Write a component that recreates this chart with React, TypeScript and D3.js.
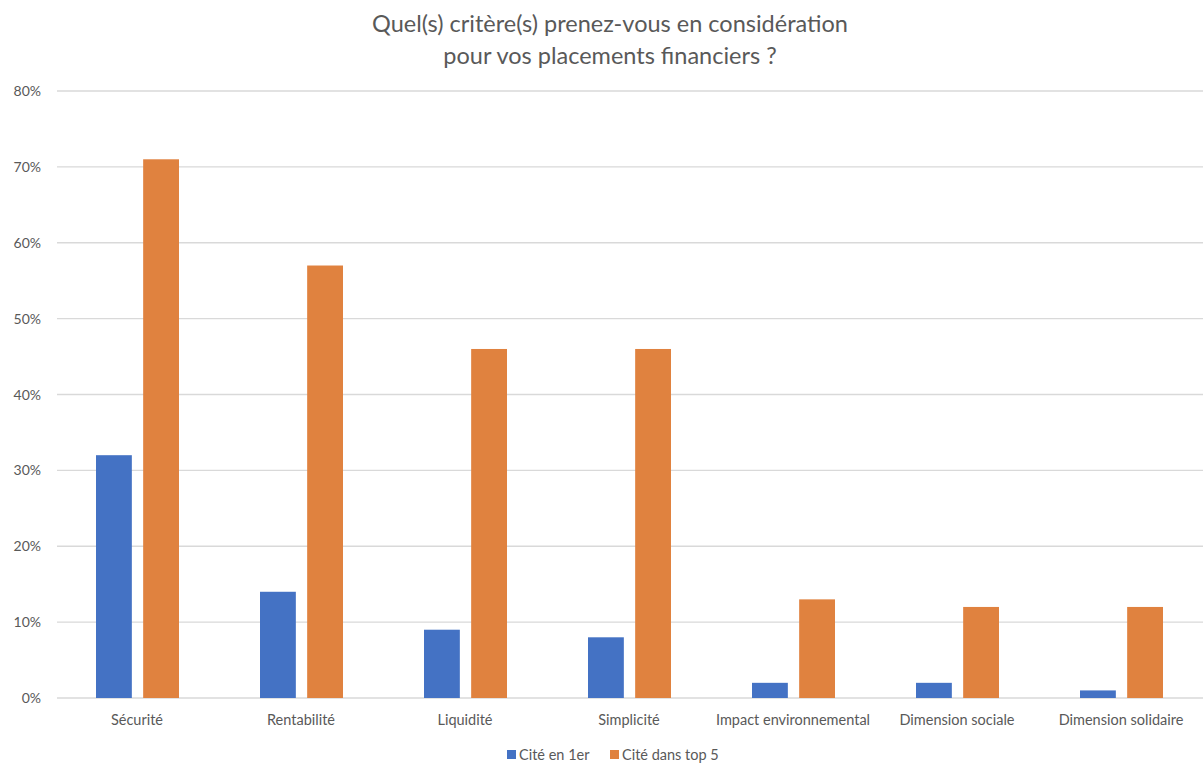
import React from "react";
import * as d3 from "d3";

const categories = [
  "Sécurité",
  "Rentabilité",
  "Liquidité",
  "Simplicité",
  "Impact environnemental",
  "Dimension sociale",
  "Dimension solidaire",
];
const firstCited = [0.32, 0.14, 0.09, 0.08, 0.02, 0.02, 0.01];
const top5Cited = [0.71, 0.57, 0.46, 0.46, 0.13, 0.12, 0.12];
const seriesNames = ["Cité en 1er", "Cité dans top 5"];
const yTicks = [0, 0.1, 0.2, 0.3, 0.4, 0.5, 0.6, 0.7, 0.8];

const colors = ["#4472C4", "#E0823F"];
const textColor = "#595959";
const font = "Lato, 'Open Sans', sans-serif";

const width = 1203;
const height = 764;
const margin = { top: 91, right: 0, bottom: 66, left: 55 };

const App = () => {
  const x = d3
    .scaleBand()
    .domain(categories)
    .range([margin.left, width - margin.right])
    .paddingInner(0)
    .paddingOuter(0);

  const inner = d3
    .scaleBand()
    .domain(["0", "1"])
    .range([41, x.bandwidth() - 40])
    .paddingInner(0.24);

  const y = d3
    .scaleLinear()
    .domain([0, 0.8])
    .range([height - margin.bottom, margin.top]);

  const fmt = d3.format(".0%");
  const series = [firstCited, top5Cited];

  return (
    <svg
      width={width}
      height={height}
      style={{ position: "absolute", left: 0, top: 0, background: "#fff" }}
      fontFamily={font}
    >
      <text x={610} y={32} textAnchor="middle" fontSize={23.5} fill={textColor}>
        Quel(s) critère(s) prenez-vous en considération
      </text>
      <text x={610} y={64} textAnchor="middle" fontSize={23.5} fill={textColor}>
        pour vos placements financiers ?
      </text>

      {yTicks.map((t) => (
        <g key={t}>
          <line
            x1={margin.left + 2}
            x2={width}
            y1={y(t)}
            y2={y(t)}
            stroke="#D9D9D9"
            strokeWidth={1.3}
          />
          <text
            x={41}
            y={y(t) + 5}
            textAnchor="end"
            fontSize={14}
            fill={textColor}
          >
            {fmt(t)}
          </text>
        </g>
      ))}

      {categories.map((c, i) => (
        <g key={c}>
          {series.map((s, k) => (
            <rect
              key={k}
              x={(x(c) as number) + (inner(String(k)) as number)}
              y={y(s[i])}
              width={inner.bandwidth()}
              height={y(0) - y(s[i])}
              fill={colors[k]}
            />
          ))}
          <text
            x={(x(c) as number) + x.bandwidth() / 2}
            y={725}
            textAnchor="middle"
            fontSize={14.5}
            fill={textColor}
          >
            {c}
          </text>
        </g>
      ))}

      <g>
        <rect x={507} y={750} width={9} height={9} fill={colors[0]} />
        <text x={519} y={760} fontSize={14.5} fill={textColor}>
          {seriesNames[0]}
        </text>
        <rect x={610} y={750} width={9} height={9} fill={colors[1]} />
        <text x={622} y={760} fontSize={14.5} fill={textColor}>
          {seriesNames[1]}
        </text>
      </g>
    </svg>
  );
};

export default App;
